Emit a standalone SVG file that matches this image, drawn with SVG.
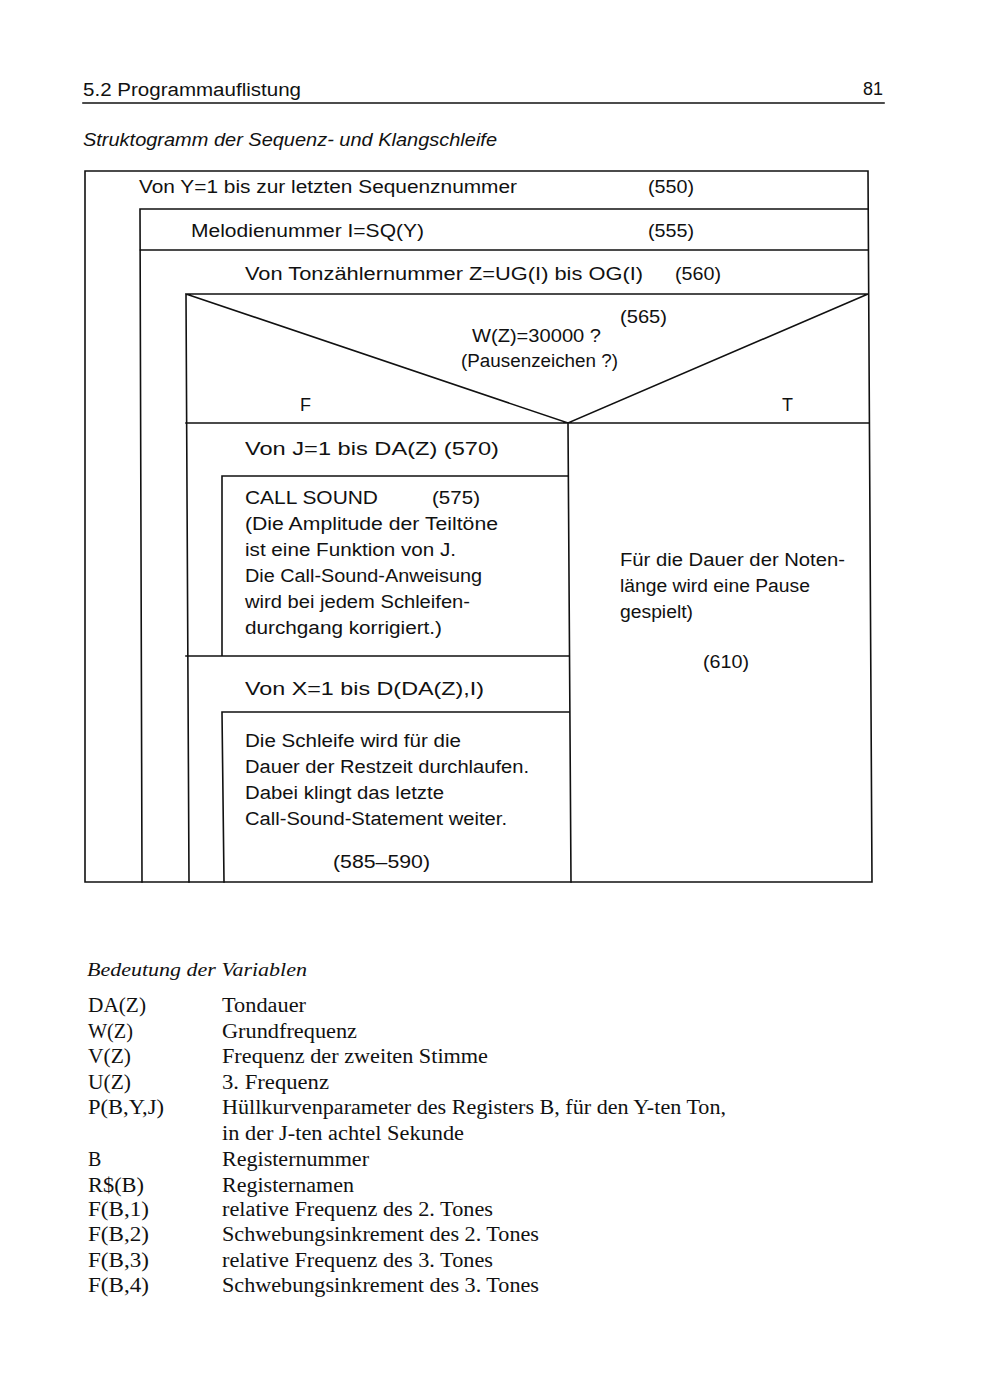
<svg xmlns="http://www.w3.org/2000/svg" width="1000" height="1400" viewBox="0 0 1000 1400">
<style>
.s{font-family:"Liberation Sans",Arial,sans-serif;font-size:18px;fill:#111}
.h{font-family:"Liberation Sans",Arial,sans-serif;font-size:18px;fill:#111}
.i{font-family:"Liberation Sans",Arial,sans-serif;font-size:18px;font-style:italic;fill:#111}
.r{font-family:"Liberation Serif","Times New Roman",serif;font-size:20px;fill:#111}
.ri{font-family:"Liberation Serif","Times New Roman",serif;font-size:19px;font-style:italic;fill:#111}
.ln{stroke:#111;stroke-width:1.6;fill:none;stroke-linecap:square}
</style>
<rect width="1000" height="1400" fill="#fff"/>
<g id="header">
<text class="h" x="83" y="96" textLength="218" lengthAdjust="spacingAndGlyphs">5.2  Programmauflistung</text>
<text class="h" x="863" y="95" textLength="20" lengthAdjust="spacingAndGlyphs">81</text>
<line class="ln" x1="83" y1="103" x2="884" y2="103"/>
<text class="i" x="83" y="146" textLength="414" lengthAdjust="spacingAndGlyphs">Struktogramm der Sequenz- und Klangschleife</text>
</g>
<g id="connectors">
<path class="ln" d="M85,171 L868,171 L872,882 L85,882 Z"/>
<path class="ln" d="M140,209 L868,209 M140,209 L142,882 M140,250 L868,250"/>
<path class="ln" d="M186,294 L868,294 M186,294 L189,882 M186,294 L568,423 L868,294 M186,423 L869,423 M568,423 L571,882"/>
<path class="ln" d="M222,476 L568,476 M222,476 L222,656 M186,656 L569,656 M222,712 L569,712 M222,712 L224,882"/>
</g>
<g id="loop550">
<text class="s" x="139" y="193" textLength="378" lengthAdjust="spacingAndGlyphs">Von  Y=1  bis zur letzten Sequenznummer</text>
<text class="s" x="648" y="193" textLength="46" lengthAdjust="spacingAndGlyphs">(550)</text>
</g>
<g id="stmt555">
<text class="s" x="191" y="237" textLength="233" lengthAdjust="spacingAndGlyphs">Melodienummer  I=SQ(Y)</text>
<text class="s" x="648" y="237" textLength="46" lengthAdjust="spacingAndGlyphs">(555)</text>
</g>
<g id="loop560">
<text class="s" x="245" y="280" textLength="398" lengthAdjust="spacingAndGlyphs">Von Tonzählernummer  Z=UG(I)  bis  OG(I)</text>
<text class="s" x="675" y="280" textLength="46" lengthAdjust="spacingAndGlyphs">(560)</text>
</g>
<g id="if565">
<text class="s" x="620" y="323" textLength="47" lengthAdjust="spacingAndGlyphs">(565)</text>
<text class="s" x="472" y="342" textLength="129" lengthAdjust="spacingAndGlyphs">W(Z)=30000 ?</text>
<text class="s" x="461" y="367" textLength="157" lengthAdjust="spacingAndGlyphs">(Pausenzeichen ?)</text>
<text class="s" x="300" y="411">F</text>
<text class="s" x="782" y="411">T</text>
</g>
<g id="loop570">
<text class="s" x="245" y="455" textLength="254" lengthAdjust="spacingAndGlyphs">Von  J=1  bis  DA(Z)   (570)</text>
</g>
<g id="stmt575">
<text class="s" x="245" y="504" textLength="133" lengthAdjust="spacingAndGlyphs">CALL SOUND</text>
<text class="s" x="432" y="504" textLength="48" lengthAdjust="spacingAndGlyphs">(575)</text>
<text class="s" x="245" y="530" textLength="253" lengthAdjust="spacingAndGlyphs">(Die Amplitude der Teiltöne</text>
<text class="s" x="245" y="556" textLength="211" lengthAdjust="spacingAndGlyphs">ist eine Funktion von J.</text>
<text class="s" x="245" y="582" textLength="237" lengthAdjust="spacingAndGlyphs">Die Call-Sound-Anweisung</text>
<text class="s" x="245" y="608" textLength="225" lengthAdjust="spacingAndGlyphs">wird bei jedem Schleifen-</text>
<text class="s" x="245" y="634" textLength="197" lengthAdjust="spacingAndGlyphs">durchgang korrigiert.)</text>
</g>
<g id="loop580">
<text class="s" x="245" y="695" textLength="239" lengthAdjust="spacingAndGlyphs">Von  X=1  bis  D(DA(Z),I)</text>
</g>
<g id="stmt585">
<text class="s" x="245" y="747" textLength="216" lengthAdjust="spacingAndGlyphs">Die Schleife wird für die</text>
<text class="s" x="245" y="773" textLength="284" lengthAdjust="spacingAndGlyphs">Dauer der Restzeit durchlaufen.</text>
<text class="s" x="245" y="799" textLength="199" lengthAdjust="spacingAndGlyphs">Dabei klingt das letzte</text>
<text class="s" x="245" y="825" textLength="262" lengthAdjust="spacingAndGlyphs">Call-Sound-Statement weiter.</text>
<text class="s" x="333" y="868" textLength="97" lengthAdjust="spacingAndGlyphs">(585–590)</text>
</g>
<g id="stmt610">
<text class="s" x="620" y="566" textLength="225" lengthAdjust="spacingAndGlyphs">Für die Dauer der Noten-</text>
<text class="s" x="620" y="592" textLength="190" lengthAdjust="spacingAndGlyphs">länge wird eine Pause</text>
<text class="s" x="620" y="618" textLength="73" lengthAdjust="spacingAndGlyphs">gespielt)</text>
<text class="s" x="703" y="668" textLength="46" lengthAdjust="spacingAndGlyphs">(610)</text>
</g>
<g id="variables">
<text class="ri" x="87" y="976" textLength="220" lengthAdjust="spacingAndGlyphs">Bedeutung der Variablen</text>
<text class="r" x="88" y="1012" textLength="58" lengthAdjust="spacingAndGlyphs">DA(Z)</text><text class="r" x="222" y="1012" textLength="84" lengthAdjust="spacingAndGlyphs">Tondauer</text>
<text class="r" x="88" y="1038" textLength="45" lengthAdjust="spacingAndGlyphs">W(Z)</text><text class="r" x="222" y="1038" textLength="135" lengthAdjust="spacingAndGlyphs">Grundfrequenz</text>
<text class="r" x="88" y="1063" textLength="43" lengthAdjust="spacingAndGlyphs">V(Z)</text><text class="r" x="222" y="1063" textLength="266" lengthAdjust="spacingAndGlyphs">Frequenz der zweiten Stimme</text>
<text class="r" x="88" y="1089" textLength="43" lengthAdjust="spacingAndGlyphs">U(Z)</text><text class="r" x="222" y="1089" textLength="107" lengthAdjust="spacingAndGlyphs">3. Frequenz</text>
<text class="r" x="88" y="1114" textLength="76" lengthAdjust="spacingAndGlyphs">P(B,Y,J)</text><text class="r" x="222" y="1114" textLength="504" lengthAdjust="spacingAndGlyphs">Hüllkurvenparameter des Registers B, für den Y-ten Ton,</text>
<text class="r" x="222" y="1140" textLength="242" lengthAdjust="spacingAndGlyphs">in der J-ten achtel Sekunde</text>
<text class="r" x="88" y="1166">B</text><text class="r" x="222" y="1166" textLength="147" lengthAdjust="spacingAndGlyphs">Registernummer</text>
<text class="r" x="88" y="1192" textLength="56" lengthAdjust="spacingAndGlyphs">R$(B)</text><text class="r" x="222" y="1192" textLength="132" lengthAdjust="spacingAndGlyphs">Registernamen</text>
<text class="r" x="88" y="1216" textLength="61" lengthAdjust="spacingAndGlyphs">F(B,1)</text><text class="r" x="222" y="1216" textLength="271" lengthAdjust="spacingAndGlyphs">relative Frequenz des 2. Tones</text>
<text class="r" x="88" y="1241" textLength="61" lengthAdjust="spacingAndGlyphs">F(B,2)</text><text class="r" x="222" y="1241" textLength="317" lengthAdjust="spacingAndGlyphs">Schwebungsinkrement des 2. Tones</text>
<text class="r" x="88" y="1267" textLength="61" lengthAdjust="spacingAndGlyphs">F(B,3)</text><text class="r" x="222" y="1267" textLength="271" lengthAdjust="spacingAndGlyphs">relative Frequenz des 3. Tones</text>
<text class="r" x="88" y="1292" textLength="61" lengthAdjust="spacingAndGlyphs">F(B,4)</text><text class="r" x="222" y="1292" textLength="317" lengthAdjust="spacingAndGlyphs">Schwebungsinkrement des 3. Tones</text>
</g>
</svg>
